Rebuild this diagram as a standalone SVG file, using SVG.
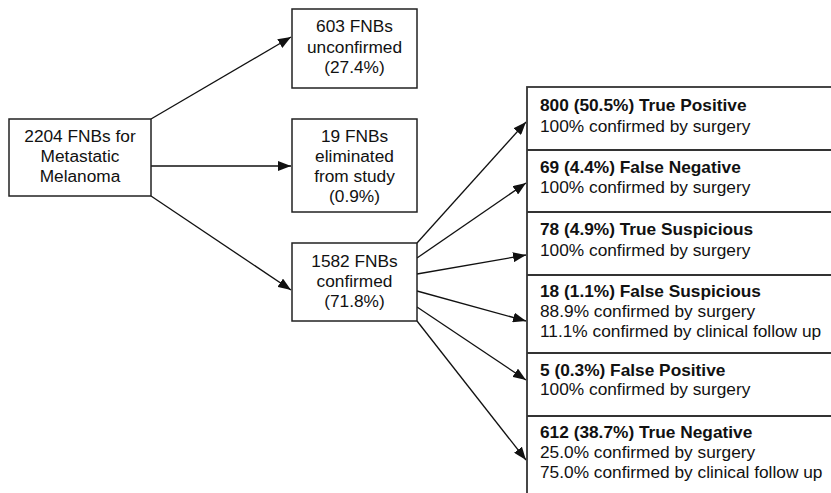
<svg xmlns="http://www.w3.org/2000/svg" width="831" height="493" viewBox="0 0 831 493">
<defs>
<style>
.box{fill:#fff;stroke:#222;stroke-width:1.5}
.tbl{fill:#fff;stroke:#333;stroke-width:1.8}
.t{font-family:"Liberation Sans",Arial,sans-serif;font-size:17.3px;fill:#111}
.c{text-anchor:middle}
.b{font-weight:bold}
.ln{stroke:#111;stroke-width:1.3;fill:none;marker-end:url(#ah)}
</style>
<marker id="ah" markerUnits="userSpaceOnUse" markerWidth="14" markerHeight="10" refX="13" refY="5" orient="auto">
<path d="M0,0 L13,5 L0,10 Z" fill="#111"/>
</marker>
</defs>
<rect width="831" height="493" fill="#fff"/>
<g id="connectors">
<line class="ln" x1="151" y1="119" x2="291" y2="37"/>
<line class="ln" x1="151" y1="166" x2="291" y2="166"/>
<line class="ln" x1="151" y1="196" x2="291" y2="290"/>
<line class="ln" x1="417" y1="243" x2="526" y2="122"/>
<line class="ln" x1="417" y1="258" x2="526" y2="183"/>
<line class="ln" x1="417" y1="274" x2="526" y2="255"/>
<line class="ln" x1="417" y1="291" x2="526" y2="321"/>
<line class="ln" x1="417" y1="307" x2="526" y2="380"/>
<line class="ln" x1="417" y1="321" x2="526" y2="460"/>
</g>
<g id="root">
<rect class="box" x="9" y="119" width="142" height="77"/>
<text class="t c" x="80" y="142">2204 FNBs for</text>
<text class="t c" x="80" y="162">Metastatic</text>
<text class="t c" x="80" y="182">Melanoma</text>
</g>
<g id="unconfirmed">
<rect class="box" x="292" y="9" width="125" height="79"/>
<text class="t c" x="354.5" y="32">603 FNBs</text>
<text class="t c" x="354.5" y="52.5">unconfirmed</text>
<text class="t c" x="354.5" y="72.5">(27.4%)</text>
</g>
<g id="eliminated">
<rect class="box" x="292" y="119" width="125" height="93"/>
<text class="t c" x="354.5" y="142">19 FNBs</text>
<text class="t c" x="354.5" y="162">eliminated</text>
<text class="t c" x="354.5" y="182">from study</text>
<text class="t c" x="354.5" y="202">(0.9%)</text>
</g>
<g id="confirmed">
<rect class="box" x="292" y="243" width="125" height="78"/>
<text class="t c" x="354.5" y="267">1582 FNBs</text>
<text class="t c" x="354.5" y="287">confirmed</text>
<text class="t c" x="354.5" y="307">(71.8%)</text>
</g>
<g id="results">
<rect class="tbl" x="527" y="87" width="320" height="420"/>
<line class="tbl" x1="527" y1="150" x2="840" y2="150"/>
<line class="tbl" x1="527" y1="212" x2="840" y2="212"/>
<line class="tbl" x1="527" y1="275" x2="840" y2="275"/>
<line class="tbl" x1="527" y1="353" x2="840" y2="353"/>
<line class="tbl" x1="527" y1="416" x2="840" y2="416"/>
</g>
<g id="tp">
<text class="t b" x="540" y="111">800 (50.5%) True Positive</text>
<text class="t" x="540" y="131.5">100% confirmed by surgery</text>
</g>
<g id="fn">
<text class="t b" x="540" y="172.5">69 (4.4%) False Negative</text>
<text class="t" x="540" y="193">100% confirmed by surgery</text>
</g>
<g id="ts">
<text class="t b" x="540" y="235">78 (4.9%) True Suspicious</text>
<text class="t" x="540" y="256">100% confirmed by surgery</text>
</g>
<g id="fs">
<text class="t b" x="540" y="297">18 (1.1%) False Suspicious</text>
<text class="t" x="540" y="317">88.9% confirmed by surgery</text>
<text class="t" x="540" y="336.5">11.1% confirmed by clinical follow up</text>
</g>
<g id="fp">
<text class="t b" x="540" y="375.5">5 (0.3%) False Positive</text>
<text class="t" x="540" y="395">100% confirmed by surgery</text>
</g>
<g id="tn">
<text class="t b" x="540" y="438">612 (38.7%) True Negative</text>
<text class="t" x="540" y="458">25.0% confirmed by surgery</text>
<text class="t" x="540" y="477.5">75.0% confirmed by clinical follow up</text>
</g>
</svg>
